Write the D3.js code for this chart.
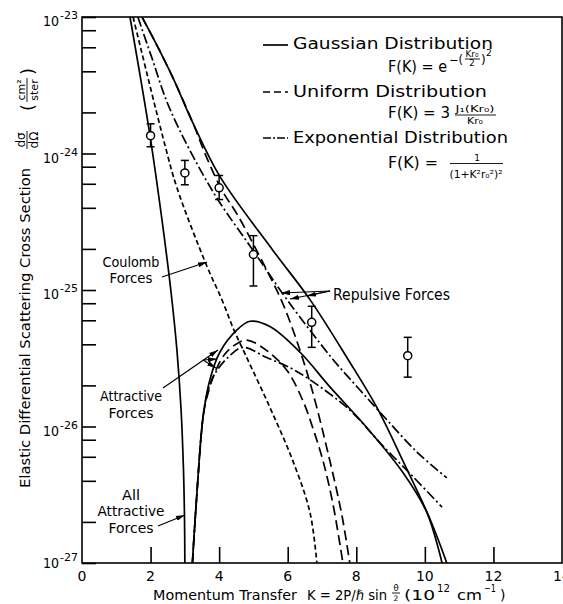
<!DOCTYPE html>
<html>
<head>
<meta charset="utf-8">
<script src="https://cdn.jsdelivr.net/npm/d3@7"></script>
<style>
  body { margin: 0; background: #fff; }
  text { font-family: "DejaVu Sans", sans-serif; fill: #000; }
</style>
</head>
<body>
<script>
const width = 563,
  height = 604,
  plotLeft = 82,
  plotRight = 562,
  plotTop = 17,
  plotBottom = 563;

// axis ticks
const xTicks = [2, 4, 6, 8, 10, 12];
const xLabels = [0, 2, 4, 6, 8, 10, 12, 14];
const yDecades = [-27, -26, -25, -24, -23];
const yMinor = [2, 4, 6, 8];

// curves: K (10^12 cm^-1) and cross section (cm^2/ster)
const gaussRepK = [1.75, 2.13, 2.65, 3.24, 4.02, 5.57, 6.65, 7.76, 8.6, 9.36, 10.15, 10.64];
const gaussRepS = [1e-23, 6.6e-24, 3.6e-24, 1.66e-24, 6.8e-25, 1.95e-25, 8.5e-26, 3.1e-26, 1.38e-26, 5.6e-27, 2.1e-27, 1e-27];

const unifRepK = [1.75, 2.13, 2.65, 3.24, 3.64, 4.08, 4.55, 5.07, 5.48, 5.89, 6.36, 6.73, 7.23, 7.58, 7.81];
const unifRepS = [1e-23, 6.6e-24, 3.6e-24, 1.66e-24, 9.3e-25, 5.4e-25, 3.5e-25, 2.0e-25, 1.26e-25, 7.6e-26, 3.6e-26, 1.78e-26, 5.6e-27, 2.24e-27, 1e-27];

const expRepK = [1.63, 2.04, 2.57, 3.79, 4.99, 5.98, 7.32, 8.1, 8.89, 9.77, 10.64];
const expRepS = [1e-23, 5.0e-24, 2.1e-24, 5.4e-25, 1.95e-25, 8.5e-26, 3.1e-26, 1.86e-26, 1.12e-26, 6.5e-27, 4.2e-27];

const coulombK = [1.49, 2.42, 2.77, 3.64, 4.08, 4.43, 4.78, 5.48, 6.15, 6.65, 6.85];
const coulombS = [1e-23, 1.15e-24, 5.6e-25, 1.5e-25, 8.5e-26, 5.1e-26, 3.3e-26, 1.38e-26, 5.6e-27, 2.34e-27, 1e-27];

const gaussAllK = [1.4, 1.98, 2.33, 2.59, 2.77, 2.89, 2.96, 2.99, 3.0];
const gaussAllS = [1e-23, 1.37e-24, 3.3e-25, 1.0e-25, 3.6e-26, 1.32e-26, 4.8e-27, 2.1e-27, 1e-27];

const gaussAttrK = [3.22, 3.28, 3.35, 3.53, 3.73, 4.02, 4.52, 4.9, 5.48, 6.36, 7.23, 8.31, 9.36, 10.06, 10.5];
const gaussAttrS = [1e-27, 1.74e-27, 3.2e-27, 1.17e-26, 2.2e-26, 3.5e-26, 5.1e-26, 5.9e-26, 5.4e-26, 3.5e-26, 1.95e-26, 9.8e-27, 4.6e-27, 2.34e-27, 1e-27];

const unifAttrK = [3.22, 3.35, 3.53, 3.64, 3.88, 4.17, 4.49, 4.81, 5.39, 5.98, 6.44, 6.76, 7.03, 7.32, 7.61];
const unifAttrS = [1e-27, 3.2e-27, 1.17e-26, 1.62e-26, 2.5e-26, 3.4e-26, 4.0e-26, 4.3e-26, 3.6e-26, 2.57e-26, 1.55e-26, 9.3e-27, 5.6e-27, 2.7e-27, 1e-27];

const expAttrK = [3.22, 3.35, 3.53, 3.64, 3.82, 4.02, 4.31, 4.69, 5.39, 6.06, 6.65, 7.81, 8.69, 9.65, 10.5];
const expAttrS = [1e-27, 3.2e-27, 1.17e-26, 1.7e-26, 2.3e-26, 2.75e-26, 3.3e-26, 3.8e-26, 3.2e-26, 2.7e-26, 2.2e-26, 1.32e-26, 7.6e-27, 4.3e-27, 2.57e-27];

// measured points with error bars
const pointK = [2, 3, 4, 5, 6.7, 9.5];
const pointS = [1.35e-24, 7.2e-25, 5.6e-25, 1.82e-25, 5.8e-26, 3.3e-26];
const pointHi = [1.65e-24, 8.9e-25, 6.9e-25, 2.5e-25, 7.6e-26, 4.5e-26];
const pointLo = [1.12e-24, 5.9e-25, 4.6e-25, 1.07e-25, 3.8e-26, 2.3e-26];

const x = d3.scaleLinear().domain([0, 14]).range([plotLeft, plotRight]);
const y = d3.scaleLog().domain([1e-27, 1e-23]).range([plotBottom, plotTop]);

const svg = d3.select("body").append("svg").attr("width", width).attr("height", height);

const defs = svg.append("defs");
defs.append("clipPath").attr("id", "plot")
  .append("rect").attr("x", plotLeft).attr("y", plotTop)
  .attr("width", plotRight - plotLeft).attr("height", plotBottom - plotTop);

const marker = defs.append("marker")
  .attr("id", "arrow").attr("viewBox", "0 0 10 10")
  .attr("refX", 10).attr("refY", 5)
  .attr("markerWidth", 9).attr("markerHeight", 9)
  .attr("markerUnits", "userSpaceOnUse").attr("orient", "auto");
marker.append("path").attr("d", "M0,2.2L10,5L0,7.8Z").attr("fill", "#000");

function label(g, px, py, s, size, len, anchor) {
  const t = g.append("text").attr("x", px).attr("y", py).attr("font-size", size).text(s);
  if (anchor) t.attr("text-anchor", anchor);
  if (len) t.attr("textLength", len).attr("lengthAdjust", "spacingAndGlyphs");
  return t;
}

// frame
svg.append("rect").attr("x", plotLeft).attr("y", plotTop)
  .attr("width", plotRight - plotLeft).attr("height", plotBottom - plotTop)
  .attr("fill", "none").attr("stroke", "#000").attr("stroke-width", 1.6);

// y ticks
const yTickVals = [];
yDecades.forEach(e => {
  yTickVals.push(Math.pow(10, e));
  if (e < -23) yMinor.forEach(m => yTickVals.push(m * Math.pow(10, e)));
});
const yAxis = svg.append("g").attr("transform", `translate(${plotLeft},0)`)
  .call(d3.axisLeft(y).tickValues(yTickVals).tickSizeInner(-14).tickSizeOuter(0).tickFormat(""));
yAxis.select(".domain").remove();
yAxis.selectAll("line").attr("stroke-width", 1.6);

const xAxis = svg.append("g").attr("transform", `translate(0,${plotBottom})`)
  .call(d3.axisBottom(x).tickValues(xTicks).tickSizeInner(-16).tickSizeOuter(0).tickFormat(""));
xAxis.select(".domain").remove();
xAxis.selectAll("line").attr("stroke-width", 1.6);

// y tick labels
yDecades.forEach(e => {
  const py = y(Math.pow(10, e)) + (e === -27 ? -4 : 0);
  label(svg, 43, py + 9, "10", 14, 16);
  label(svg, 60, py + 2, String(e), 10, 18);
});

// x tick labels
xLabels.forEach(v => {
  label(svg, x(v), 581, String(v), 14, null, "middle");
});

// curves
const line = d3.line().x(d => x(d[0])).y(d => y(d[1])).curve(d3.curveCatmullRom.alpha(0.5));
const curves = [
  [gaussRepK, gaussRepS, null],
  [unifRepK, unifRepS, "10,5"],
  [expRepK, expRepS, "10,3,2,3"],
  [coulombK, coulombS, "5,3"],
  [gaussAllK, gaussAllS, null],
  [gaussAttrK, gaussAttrS, null],
  [unifAttrK, unifAttrS, "10,5"],
  [expAttrK, expAttrS, "10,3,2,3"]
];
const cg = svg.append("g").attr("clip-path", "url(#plot)");
curves.forEach(([ks, ss, dash]) => {
  cg.append("path")
    .attr("d", line(ks.map((k, i) => [k, ss[i]])))
    .attr("fill", "none").attr("stroke", "#000").attr("stroke-width", 1.7)
    .attr("stroke-dasharray", dash);
});

// data points
const pg = svg.append("g").attr("stroke", "#000").attr("stroke-width", 1.5);
pointK.forEach((k, i) => {
  const px = x(k);
  pg.append("line").attr("x1", px).attr("x2", px).attr("y1", y(pointHi[i])).attr("y2", y(pointLo[i]));
  pg.append("line").attr("x1", px - 4).attr("x2", px + 4).attr("y1", y(pointHi[i])).attr("y2", y(pointHi[i]));
  pg.append("line").attr("x1", px - 4).attr("x2", px + 4).attr("y1", y(pointLo[i])).attr("y2", y(pointLo[i]));
  pg.append("circle").attr("cx", px).attr("cy", y(pointS[i])).attr("r", 4).attr("fill", "#fff");
});

// annotations
const ag = svg.append("g");
function arrow(x1, y1, x2, y2) {
  ag.append("line").attr("x1", x1).attr("y1", y1).attr("x2", x2).attr("y2", y2)
    .attr("stroke", "#000").attr("stroke-width", 1.2).attr("marker-end", "url(#arrow)");
}
label(ag, 131, 267, "Coulomb", 14, 57, "middle");
label(ag, 131, 283, "Forces", 14, 43, "middle");
arrow(162, 277, 207, 262);

label(ag, 333, 300, "Repulsive Forces", 15, 117);
arrow(330, 291, 281, 293);
arrow(330, 291, 290, 299);
arrow(330, 291, 307, 296);

label(ag, 131, 401, "Attractive", 14, 62, "middle");
label(ag, 131, 418, "Forces", 14, 45, "middle");
arrow(163, 388, 218, 350);
arrow(203, 360, 217, 359);
arrow(203, 360, 216, 368);

label(ag, 131, 500, "All", 14, 18, "middle");
label(ag, 131, 516, "Attractive", 14, 67, "middle");
label(ag, 131, 533, "Forces", 14, 45, "middle");
arrow(158, 526, 185, 515);

// legend
const lg = svg.append("g");
[[45, null], [92, "7,4"], [138, "8,2,2,2"]].forEach(([ly, dash]) => {
  lg.append("line").attr("x1", 263).attr("x2", 288).attr("y1", ly).attr("y2", ly)
    .attr("stroke", "#000").attr("stroke-width", 1.7).attr("stroke-dasharray", dash);
});
label(lg, 293, 49, "Gaussian Distribution", 15, 200);
label(lg, 293, 97, "Uniform Distribution", 15, 194);
label(lg, 293, 143, "Exponential Distribution", 15, 215);

// F(K) = e^-(Kr0/2)^2
label(lg, 388, 72, "F(K) = e", 15, 59);
label(lg, 449, 64, "\u2212(", 12, 14);
label(lg, 472, 57, "Kr\u2080", 8.5, 13, "middle");
lg.append("line").attr("x1", 465).attr("x2", 480).attr("y1", 59).attr("y2", 59).attr("stroke", "#000").attr("stroke-width", 0.9);
label(lg, 472, 66, "2", 8.5, null, "middle");
label(lg, 481, 64, ")", 12);
label(lg, 486, 56, "2", 9);

// F(K) = 3 J1(Kr0)/Kr0
label(lg, 388, 118, "F(K) = 3", 15, 62);
label(lg, 475, 112, "J\u2081(Kr\u2080)", 9, 39, "middle");
lg.append("line").attr("x1", 455).attr("x2", 496).attr("y1", 115).attr("y2", 115).attr("stroke", "#000").attr("stroke-width", 0.9);
label(lg, 475, 124, "Kr\u2080", 9, 16, "middle");

// F(K) = 1/(1+K^2 r0^2)^2
label(lg, 388, 168, "F(K) =", 15, 50);
label(lg, 477, 161, "1", 9, null, "middle");
lg.append("line").attr("x1", 450).attr("x2", 503).attr("y1", 163.5).attr("y2", 163.5).attr("stroke", "#000").attr("stroke-width", 0.9);
label(lg, 476, 178, "(1+K\u00b2r\u2080\u00b2)\u00b2", 10, 53, "middle");

// x axis title
label(svg, 153, 600, "Momentum Transfer", 14, 144);
label(svg, 307, 600, "K = 2P/\u210f  sin", 14, 80);
label(svg, 396, 591, "\u03b8", 8.5, null, "middle");
svg.append("line").attr("x1", 392).attr("x2", 400).attr("y1", 593).attr("y2", 593).attr("stroke", "#000").attr("stroke-width", 0.9);
label(svg, 396, 601, "2", 7.5, null, "middle");
label(svg, 404, 600, "(10", 14, 31);
label(svg, 437, 592, "12", 10, 13);
label(svg, 457, 600, "cm", 14, 25);
label(svg, 484, 592, "\u22121", 10, 12);
label(svg, 500, 600, ")", 14);

// y axis title
const yt = svg.append("g").attr("transform", "translate(30,0) rotate(-90)");
label(yt, -488, 0, "Elastic Differential Scattering Cross Section", 14, 320);
label(yt, -140, -5, "d\u03c3", 12, null, "middle");
yt.append("line").attr("x1", -149).attr("x2", -131).attr("y1", -3).attr("y2", -3).attr("stroke", "#000").attr("stroke-width", 0.9);
label(yt, -140, 8, "d\u03a9", 12, null, "middle");
label(yt, -111, 4, "(", 18);
label(yt, -90, -5, "cm\u00b2", 11, null, "middle");
yt.append("line").attr("x1", -102).attr("x2", -78).attr("y1", -3).attr("y2", -3).attr("stroke", "#000").attr("stroke-width", 0.9);
label(yt, -90, 8, "ster", 11, null, "middle");
label(yt, -75, 4, ")", 18);
</script>
</body>
</html>
